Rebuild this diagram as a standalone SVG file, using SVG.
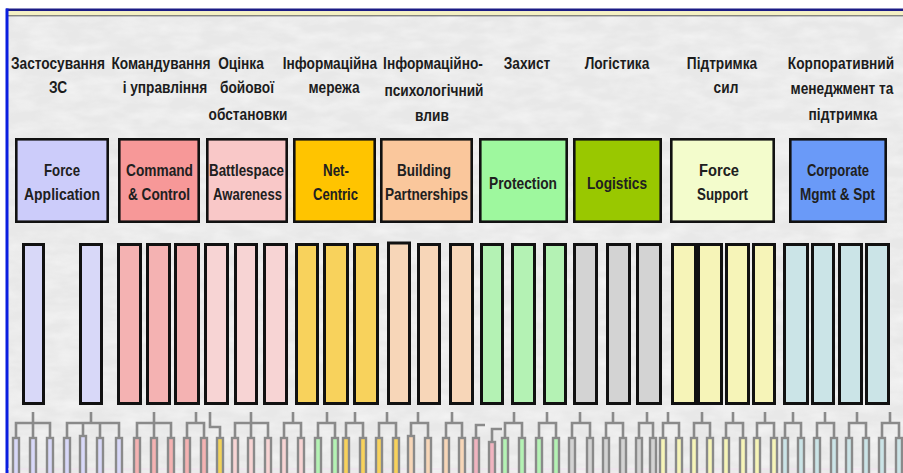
<svg xmlns="http://www.w3.org/2000/svg" width="903" height="473" viewBox="0 0 903 473">
  <defs>
    <filter id="marble" x="0" y="0" width="100%" height="100%">
      <feTurbulence type="fractalNoise" baseFrequency="0.035 0.09" numOctaves="3" seed="7"/>
      <feColorMatrix type="matrix" values="0 0 0 0 1  0 0 0 0 1  0 0 0 0 1  0 0 0 -1.1 0.75"/>
    </filter>
    <style>
      .hdr { font-family: "Liberation Sans Narrow", "Liberation Sans", Arial, sans-serif; font-weight: bold; font-size: 16.5px; fill: #1c1c1c; text-anchor: middle; }
      .lbl { font-family: "Liberation Sans Narrow", "Liberation Sans", Arial, sans-serif; font-weight: bold; font-size: 17px; fill: #202020; text-anchor: middle; }
      .cap { stroke: #111; stroke-width: 2.6; }
      .bar { stroke: #111; stroke-width: 3; }
      .leaf { stroke: #8a8a8a; stroke-width: 2.4; }
      .wire { fill: none; stroke: #8a8a8a; stroke-width: 2.6; }
      .fa { fill: #ccccfa; } .fa2 { fill: #d8d8f8; }
      .cc { fill: #f79898; } .cc2 { fill: #f4b2b2; }
      .ba { fill: #f9c8c8; } .ba2 { fill: #f7d4d4; }
      .nc { fill: #ffc400; } .nc2 { fill: #f8d25c; }
      .bp { fill: #fac79c; } .bp2 { fill: #f7d6b8; }
      .pr { fill: #9ef89e; } .pr2 { fill: #b4f2b4; }
      .lg { fill: #99c800; } .lg2 { fill: #d3d3d3; }
      .fs { fill: #f3fccc; } .fs2 { fill: #f6f4b8; }
      .cm { fill: #6a9af8; } .cm2 { fill: #cbe4e7; }
      .pk { fill: #f0b4c0; } .yl { fill: #f2d25a; }
    </style>
  </defs>

  <!-- page background and frame -->
  <rect x="0" y="0" width="903" height="473" fill="#ffffff"/>
  <rect x="8" y="11" width="895" height="462" fill="#e8e8e8"/>
  <rect x="8" y="11" width="895" height="462" filter="url(#marble)" opacity="0.7"/>
  <rect x="6" y="8.5" width="897" height="2.6" fill="#1c1c86"/>
  <rect x="8" y="11.1" width="895" height="4.2" fill="#f5f1c4"/>
  <line x1="8" y1="15.8" x2="903" y2="15.8" stroke="#5a5a5a" stroke-width="1"/>
  <rect x="5.5" y="8.5" width="3" height="465" fill="#0a1ee0"/>
  <line x1="8" y1="469" x2="903" y2="469" stroke="#f2dff0" stroke-width="1.2"/>

  <!-- Ukrainian capability headings, set in a condensed bold face (horizontal scale 0.83) -->
  <g id="headings" transform="scale(0.83,1)">
    <text class="hdr" x="69.88" y="69">Застосування</text>
    <text class="hdr" x="69.88" y="93">ЗС</text>
    <text class="hdr" x="193.98" y="69">Командування</text>
    <text class="hdr" x="198.80" y="93">і управління</text>
    <text class="hdr" x="290.36" y="69">Оцінка</text>
    <text class="hdr" x="297.59" y="93">бойової</text>
    <text class="hdr" x="298.80" y="120">обстановки</text>
    <text class="hdr" x="397.59" y="69">Інформаційна</text>
    <text class="hdr" x="402.41" y="93">мережа</text>
    <text class="hdr" x="521.69" y="69">Інформаційно-</text>
    <text class="hdr" x="522.89" y="96">психологічний</text>
    <text class="hdr" x="520.48" y="121">влив</text>
    <text class="hdr" x="634.94" y="69">Захист</text>
    <text class="hdr" x="743.37" y="69">Логістика</text>
    <text class="hdr" x="869.88" y="69">Підтримка</text>
    <text class="hdr" x="874.70" y="93">сил</text>
    <text class="hdr" x="1013.25" y="69">Корпоративний</text>
    <text class="hdr" x="1014.46" y="94">менеджмент та</text>
    <text class="hdr" x="1015.66" y="120">підтримка</text>
  </g>

  <!-- tier-1 capability boxes -->
  <g id="force-application">
    <rect class="cap fa" x="16.3" y="139.3" width="91.4" height="82.4"/>
    <text class="lbl" x="62" y="176" textLength="36" lengthAdjust="spacingAndGlyphs">Force</text>
    <text class="lbl" x="62" y="200" textLength="76" lengthAdjust="spacingAndGlyphs">Application</text>
  </g>
  <g id="command-control">
    <rect class="cap cc" x="119.3" y="139.3" width="79.4" height="82.4"/>
    <text class="lbl" x="159.5" y="176" textLength="67" lengthAdjust="spacingAndGlyphs">Command</text>
    <text class="lbl" x="159" y="200" textLength="62" lengthAdjust="spacingAndGlyphs">&amp; Control</text>
  </g>
  <g id="battlespace-awareness">
    <rect class="cap ba" x="207.3" y="139.3" width="79.4" height="82.4"/>
    <text class="lbl" x="246.5" y="176" textLength="75" lengthAdjust="spacingAndGlyphs">Battlespace</text>
    <text class="lbl" x="247.5" y="200" textLength="69" lengthAdjust="spacingAndGlyphs">Awareness</text>
  </g>
  <g id="net-centric">
    <rect class="cap nc" x="294.3" y="139.3" width="80.4" height="82.4"/>
    <text class="lbl" x="336" y="176" textLength="26" lengthAdjust="spacingAndGlyphs">Net-</text>
    <text class="lbl" x="335.5" y="200" textLength="45" lengthAdjust="spacingAndGlyphs">Centric</text>
  </g>
  <g id="building-partnerships">
    <rect class="cap bp" x="381.3" y="139.3" width="90.4" height="82.4"/>
    <text class="lbl" x="424" y="176" textLength="54" lengthAdjust="spacingAndGlyphs">Building</text>
    <text class="lbl" x="426.5" y="200" textLength="83" lengthAdjust="spacingAndGlyphs">Partnerships</text>
  </g>
  <g id="protection">
    <rect class="cap pr" x="480.3" y="139.3" width="86.4" height="82.4"/>
    <text class="lbl" x="523" y="189" textLength="68" lengthAdjust="spacingAndGlyphs">Protection</text>
  </g>
  <g id="logistics">
    <rect class="cap lg" x="574.3" y="139.3" width="86.4" height="82.4"/>
    <text class="lbl" x="617" y="189" textLength="60" lengthAdjust="spacingAndGlyphs">Logistics</text>
  </g>
  <g id="force-support">
    <rect class="cap fs" x="671.3" y="139.3" width="102.4" height="82.4"/>
    <text class="lbl" x="719" y="176" textLength="40" lengthAdjust="spacingAndGlyphs">Force</text>
    <text class="lbl" x="722.5" y="200" textLength="51" lengthAdjust="spacingAndGlyphs">Support</text>
  </g>
  <g id="corporate-mgmt">
    <rect class="cap cm" x="790.3" y="139.3" width="95.4" height="82.4"/>
    <text class="lbl" x="838" y="176" textLength="62" lengthAdjust="spacingAndGlyphs">Corporate</text>
    <text class="lbl" x="837.5" y="200" textLength="75" lengthAdjust="spacingAndGlyphs">Mgmt &amp; Spt</text>
  </g>

  <!-- tier-2 capability columns -->
  <g id="tier2">
    <rect class="bar fa2" x="23.5" y="244.5" width="20" height="159"/>
    <rect class="bar fa2" x="80.5" y="244.5" width="21" height="159"/>
    <rect class="bar cc2" x="118.5" y="244.5" width="22" height="159"/>
    <rect class="bar cc2" x="147.5" y="244.5" width="22" height="159"/>
    <rect class="bar cc2" x="175.5" y="244.5" width="23" height="159"/>
    <rect class="bar ba2" x="205.5" y="244.5" width="22" height="159"/>
    <rect class="bar ba2" x="235.5" y="244.5" width="21" height="159"/>
    <rect class="bar ba2" x="264.5" y="244.5" width="22" height="159"/>
    <rect class="bar nc2" x="296.5" y="244.5" width="21" height="159"/>
    <rect class="bar nc2" x="324.5" y="244.5" width="23" height="159"/>
    <rect class="bar nc2" x="354.5" y="244.5" width="23" height="159"/>
    <rect class="bar bp2" x="388.5" y="243" width="21" height="160.5"/>
    <rect class="bar bp2" x="418.5" y="244.5" width="21" height="159"/>
    <rect class="bar bp2" x="450.5" y="244.5" width="22" height="159"/>
    <rect class="bar pr2" x="481.5" y="244.5" width="21" height="159"/>
    <rect class="bar pr2" x="512.5" y="244.5" width="22" height="159"/>
    <rect class="bar pr2" x="544.5" y="244.5" width="21" height="159"/>
    <rect class="bar lg2" x="574.5" y="244.5" width="22" height="159"/>
    <rect class="bar lg2" x="607.5" y="244.5" width="22" height="159"/>
    <rect class="bar lg2" x="637.5" y="244.5" width="23" height="159"/>
    <rect class="bar fs2" x="672.5" y="244.5" width="23" height="159"/>
    <rect class="bar fs2" x="698.5" y="244.5" width="23" height="159"/>
    <rect class="bar fs2" x="726.5" y="244.5" width="22" height="159"/>
    <rect class="bar fs2" x="753.5" y="244.5" width="21" height="159"/>
    <rect class="bar cm2" x="784.5" y="244.5" width="23" height="159"/>
    <rect class="bar cm2" x="812.5" y="244.5" width="21" height="159"/>
    <rect class="bar cm2" x="839.5" y="244.5" width="22" height="159"/>
    <rect class="bar cm2" x="866.5" y="244.5" width="22" height="159"/>
  </g>

  <!-- tier-3 leaves -->
  <g id="tier3">
    <rect class="leaf fa2" x="13" y="438" width="6" height="40"/>
    <rect class="leaf fa2" x="30" y="438" width="6" height="40"/>
    <rect class="leaf fa2" x="47" y="438" width="6" height="40"/>
    <rect class="leaf fa2" x="64" y="438" width="6" height="40"/>
    <rect class="leaf fa2" x="80" y="436" width="6" height="42"/>
    <rect class="leaf fa2" x="97" y="438" width="6" height="40"/>
    <rect class="leaf fa2" x="116" y="438" width="6" height="40"/>
    <rect class="leaf cc2" x="134" y="438" width="6" height="40"/>
    <rect class="leaf cc2" x="151" y="438" width="6" height="40"/>
    <rect class="leaf cc2" x="168" y="438" width="6" height="40"/>
    <rect class="leaf cc2" x="184" y="438" width="6" height="40"/>
    <rect class="leaf cc2" x="201" y="438" width="6" height="40"/>
    <rect class="leaf yl" x="217" y="438" width="6" height="40"/>
    <rect class="leaf ba2" x="232" y="438" width="6" height="40"/>
    <rect class="leaf ba2" x="248" y="438" width="6" height="40"/>
    <rect class="leaf ba2" x="265" y="438" width="6" height="40"/>
    <rect class="leaf ba2" x="281" y="438" width="6" height="40"/>
    <rect class="leaf ba2" x="298" y="438" width="6" height="40"/>
    <rect class="leaf pr2" x="315" y="438" width="6" height="40"/>
    <rect class="leaf pr2" x="332" y="438" width="6" height="40"/>
    <rect class="leaf nc2" x="343" y="438" width="6" height="40"/>
    <rect class="leaf nc2" x="360" y="438" width="6" height="40"/>
    <rect class="leaf nc2" x="376" y="438" width="6" height="40"/>
    <rect class="leaf nc2" x="393" y="438" width="6" height="40"/>
    <rect class="leaf bp2" x="408" y="436" width="6" height="42"/>
    <rect class="leaf bp2" x="425" y="438" width="6" height="40"/>
    <rect class="leaf bp2" x="443" y="438" width="6" height="40"/>
    <rect class="leaf bp2" x="459" y="438" width="6" height="40"/>
    <rect class="leaf pk" x="473" y="438" width="6" height="40"/>
    <rect class="leaf pk" x="489" y="442" width="6" height="36"/>
    <rect class="leaf pr2" x="502" y="438" width="6" height="40"/>
    <rect class="leaf pr2" x="519" y="438" width="6" height="40"/>
    <rect class="leaf pr2" x="536" y="438" width="6" height="40"/>
    <rect class="leaf pr2" x="553" y="438" width="6" height="40"/>
    <rect class="leaf lg2" x="569" y="438" width="6" height="40"/>
    <rect class="leaf lg2" x="587" y="438" width="6" height="40"/>
    <rect class="leaf lg2" x="603" y="438" width="6" height="40"/>
    <rect class="leaf lg2" x="620" y="438" width="6" height="40"/>
    <rect class="leaf lg2" x="636" y="438" width="6" height="40"/>
    <rect class="leaf lg2" x="650" y="438" width="6" height="40"/>
    <rect class="leaf fs2" x="660" y="438" width="6" height="40"/>
    <rect class="leaf fs2" x="676" y="438" width="6" height="40"/>
    <rect class="leaf fs2" x="691" y="438" width="6" height="40"/>
    <rect class="leaf fs2" x="707" y="438" width="6" height="40"/>
    <rect class="leaf fs2" x="723" y="438" width="6" height="40"/>
    <rect class="leaf fs2" x="740" y="438" width="6" height="40"/>
    <rect class="leaf fs2" x="754" y="438" width="6" height="40"/>
    <rect class="leaf fs2" x="771" y="438" width="6" height="40"/>
    <rect class="leaf cm2" x="782" y="438" width="6" height="40"/>
    <rect class="leaf cm2" x="798" y="438" width="6" height="40"/>
    <rect class="leaf cm2" x="814" y="438" width="6" height="40"/>
    <rect class="leaf cm2" x="831" y="438" width="6" height="40"/>
    <rect class="leaf cm2" x="846" y="438" width="6" height="40"/>
    <rect class="leaf cm2" x="863" y="438" width="6" height="40"/>
    <rect class="leaf cm2" x="879" y="438" width="6" height="40"/>
    <rect class="leaf cm2" x="896" y="438" width="6" height="40"/>
  </g>

  <!-- connectors from each column down to its leaves -->
  <g id="connectors" class="wire">
    <path d="M33 412V423M16 438V423H50V438M33 423V438"/>
    <path d="M91 412V423M67 438V423H119V438M83 423V436M100 423V438"/>
    <path d="M154 412V423M137 438V423H171V438M154 423V438"/>
    <path d="M196 412V423M187 438V423H204V438"/>
    <path d="M210 412V427H220V438"/>
    <path d="M251 412V423M235 438V423H268V438M251 423V438"/>
    <path d="M293 412V423M284 438V423H301V438"/>
    <path d="M327 412V423M318 438V423H335V438"/>
    <path d="M355 412V423M346 438V423H363V438"/>
    <path d="M387 412V423M379 438V423H396V438"/>
    <path d="M418 412V423M411 436V423H428V438"/>
    <path d="M452 412V423M446 438V423H462V438"/>
    <path d="M485 425H476V438"/>
    <path d="M502 429H492V442"/>
    <path d="M514 412V423M505 438V423H522V438"/>
    <path d="M547 412V423M539 438V423H556V438"/>
    <path d="M580 412V423M572 438V423H590V438"/>
    <path d="M613 412V423M606 438V423H623V438"/>
    <path d="M647 412V423M639 438V423H653V438"/>
    <path d="M668 412V423M663 438V423H679V438"/>
    <path d="M702 412V423M694 438V423H710V438"/>
    <path d="M733 412V423M726 438V423H743V438"/>
    <path d="M765 412V423M757 438V423H774V438"/>
    <path d="M793 412V423M785 438V423H801V438"/>
    <path d="M825 412V423M817 438V423H834V438"/>
    <path d="M857 412V423M849 438V423H866V438"/>
    <path d="M890 412V423M882 438V423H899V438"/>
  </g>
</svg>
